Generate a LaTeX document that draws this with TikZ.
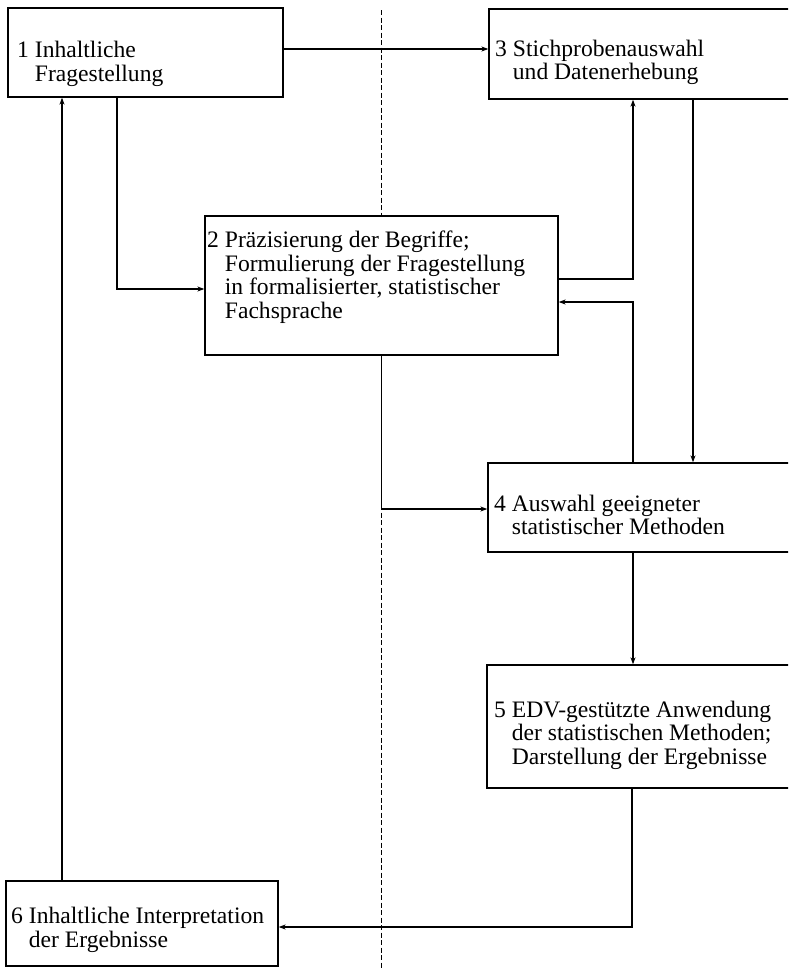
\documentclass[tikz,border=0pt]{standalone}
\usepackage{fontspec}
\setmainfont{Liberation Serif}
\usetikzlibrary{arrows.meta}

\begin{document}
\begin{tikzpicture}[x=1pt,y=-1pt,
  box/.style={draw,fill=white,line width=1.3pt,inner sep=0pt},
  lbl/.style={anchor=west,align=left,inner sep=0pt,font=\fontsize{23.6}{23.5}\selectfont},
  arr/.style={line width=1.3pt,-{Stealth[length=7pt,width=5pt]}}]
  \clip (0,0) rectangle (788,969);
  % dashed divider
  \draw[line width=0.9pt,dash pattern=on 5pt off 2.5pt] (381,10) -- (381,969);
  % boxes
  \node[box,minimum width=275,minimum height=89] (b1) at (145.5,52.5) {};
  \node[box,minimum width=353,minimum height=139] (b2) at (381.5,285.5) {};
  \node[box,minimum width=311,minimum height=90] (b3) at (644.5,54) {};
  \node[box,minimum width=312,minimum height=89] (b4) at (644,507.5) {};
  \node[box,minimum width=313,minimum height=123] (b5) at (643.5,726.5) {};
  \node[box,minimum width=272,minimum height=85] (b6) at (142,923.5) {};
  % texts
  \node[lbl] (t1) at (17,64) {1 Inhaltliche\\\hphantom{1\ }Fragestellung};
  \node[lbl] (t2) at (207,277) {2 Präzisierung der Begriffe;\\\hphantom{2\ }Formulierung der Fragestellung\\\hphantom{2\ }in formalisierter, statistischer\\\hphantom{2\ }Fachsprache};
  \node[lbl] (t3) at (495,62.5) {3 Stichprobenauswahl\\\hphantom{3\ }und Datenerhebung};
  \node[lbl] (t4) at (494,515) {4 Auswahl geeigneter\\\hphantom{4\ }statistischer Methoden};
  \node[lbl] (t5) at (494,735) {5 EDV-gestützte Anwendung\\\hphantom{5\ }der statistischen Methoden;\\\hphantom{5\ }Darstellung der Ergebnisse};
  \node[lbl] (t6) at (11,930) {6 Inhaltliche Interpretation\\\hphantom{6\ }der Ergebnisse};
  % connectors
  \draw[arr] ([yshift=3.5]b1.east) -- ([yshift=3.5]b1.east -| b3.west);
  \draw[arr] ([xshift=-28.5]b1.south) |- ([yshift=-3.5]b2.west);
  \draw[arr] ([yshift=6.5]b2.east) -| ([xshift=-11.5]b3.south);
  \draw[arr] ([xshift=-11]b4.north) |- ([yshift=-16.5]b2.east);
  \draw[arr] ([xshift=48.5]b3.south) -- ([xshift=48.5]b3.south |- b4.north);
  \draw[arr] (b2.south) |- ([yshift=-1.5]b4.west);
  \draw[arr] ([xshift=-11]b4.south) -- ([xshift=-11]b4.south |- b5.north);
  \draw[arr] ([xshift=-11.5]b5.south) |- ([yshift=-3.5]b6.east);
  \draw[arr] ([xshift=-80]b6.north) -- ([xshift=-80]b6.north |- b1.south);
\end{tikzpicture}
\end{document}
